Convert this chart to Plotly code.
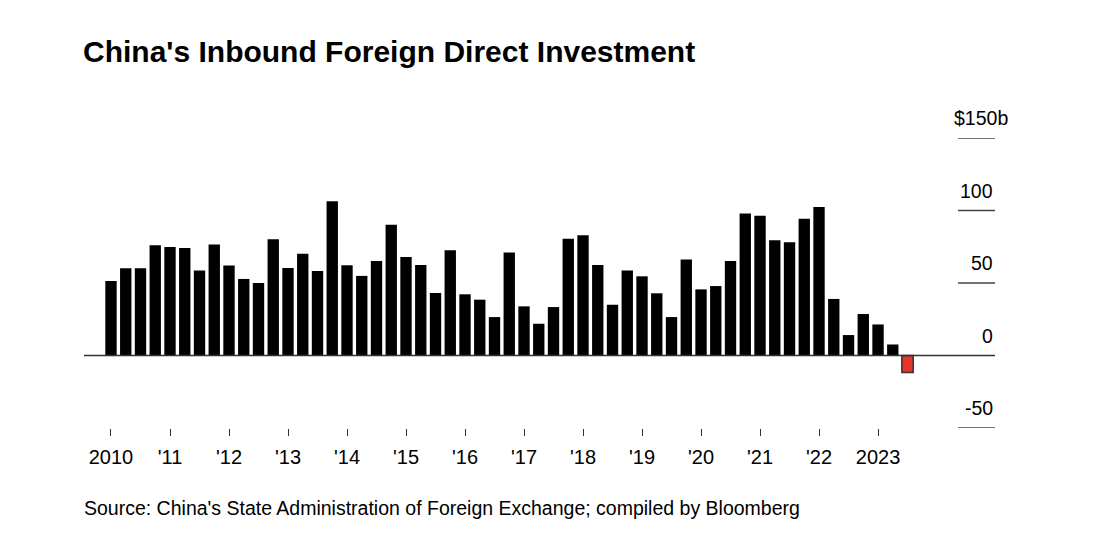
import plotly.graph_objects as go

quarters = [f"{y} Q{q}" for y in range(2010, 2024) for q in range(1, 5)][:55]
values = [51.4, 60.2, 60.2, 76.1,
          74.9, 74.2, 58.6, 76.5,
          62.0, 52.8, 50.0, 80.2,
          60.4, 70.1, 58.3, 106.3,
          62.2, 54.9, 65.2, 90.1,
          68.0, 62.5, 43.1, 72.6,
          42.2, 38.5, 26.5, 71.0,
          33.9, 21.9, 33.4, 80.5,
          83.0, 62.5, 35.0, 58.6,
          54.6, 42.9, 26.5, 66.2,
          45.6, 47.9, 65.2, 98.0,
          96.4, 79.5, 78.1, 94.3,
          102.4, 39.0, 14.1, 28.6,
          21.4, 7.6, -11.8]
year_tick_labels = ["2010", "'11", "'12", "'13", "'14", "'15", "'16", "'17",
                    "'18", "'19", "'20", "'21", "'22", "2023"]
y_ticks = [150, 100, 50, 0, -50]
y_tick_labels = ["$150b", "100", "50", "0", "-50"]

FONT = "Liberation Sans, Arial, Helvetica, sans-serif"
# page body has an 8px margin; size the figure so the page is filled
W, H = 1112, 526
idx = list(range(len(values)))
colors = ["#e8352a" if v < 0 else "#000000" for v in values]
line_colors = ["#333333" if v < 0 else "rgba(0,0,0,0)" for v in values]
line_widths = [1.5 if v < 0 else 0 for v in values]

fig = go.Figure()
fig.add_trace(go.Bar(
    x=idx, y=values,
    marker=dict(color=colors, line=dict(color=line_colors, width=line_widths)),
    hovertext=quarters, hoverinfo="text+y",
))

annotations = []
for v, lab in zip(y_ticks, y_tick_labels):
    if v == 0:
        fig.add_shape(type="line", xref="paper", yref="y", x0=0, x1=1, y0=v, y1=v,
                      line=dict(color="#333333", width=1.5), layer="above")
    else:
        fig.add_shape(type="line", xref="paper", yref="y", x0=0.9594, x1=1, y0=v, y1=v,
                      line=dict(color="#444444", width=1.5))
    annotations.append(dict(
        x=1, xref="paper", y=v, yref="y", text=lab, showarrow=False,
        xanchor="right", yanchor="bottom", yshift=7,
        xshift=15 if lab.endswith("b") else 0,
        font=dict(family=FONT, size=19.5, color="#000000")))

annotations.append(dict(
    text="Source: China's State Administration of Foreign Exchange; compiled by Bloomberg",
    xref="paper", yref="paper", x=0, y=-(508 - 427.7) / 289.4, xanchor="left",
    yanchor="middle", showarrow=False, xshift=-2,
    font=dict(family=FONT, size=19.5, color="#000000")))

fig.update_layout(
    width=W, height=H,
    paper_bgcolor="white", plot_bgcolor="white",
    margin=dict(l=76, r=125, t=130, b=106),
    bargap=0.23,
    showlegend=False,
    title=dict(text="<b>China's Inbound Foreign Direct Investment</b>",
               x=75 / W, xanchor="left", y=1 - 43 / H, yanchor="middle",
               font=dict(family=FONT, size=30, color="#000000")),
    xaxis=dict(range=[-1.83, 59.93], tickvals=[4 * i for i in range(len(year_tick_labels))],
               ticktext=year_tick_labels, ticks="outside", ticklen=7, tickwidth=1,
               tickcolor="#333333", showgrid=False, zeroline=False, showline=False,
               tickfont=dict(family=FONT, size=20, color="#000000"),
               ticklabelstandoff=4),
    yaxis=dict(range=[-50, 150], showgrid=False, zeroline=False, showticklabels=False,
               showline=False),
    annotations=annotations,
)

fig.write_html("out.html")
